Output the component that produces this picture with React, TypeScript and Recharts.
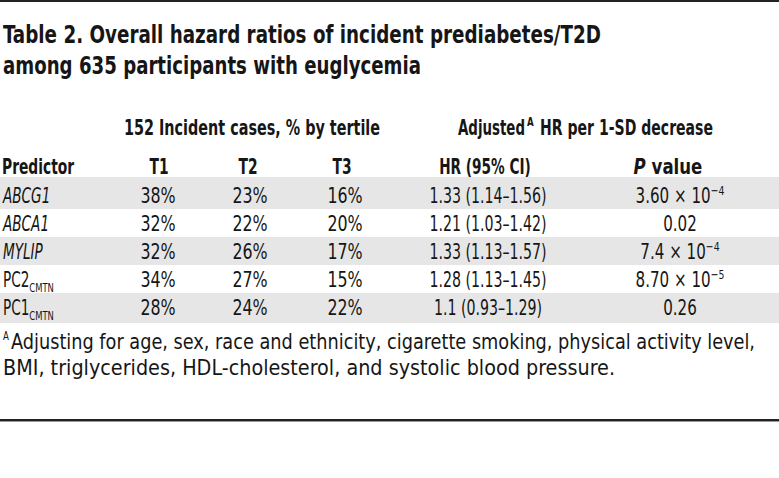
import { BarChart, Bar, XAxis, YAxis, Customized } from "recharts";

const predictors = ["ABCG1", "ABCA1", "MYLIP", "PC2", "PC1"];
const predictorSubs = ["", "", "", "CMTN", "CMTN"];
const italicNames = [true, true, true, false, false];
const tertile1 = [38, 32, 32, 34, 28];
const tertile2 = [23, 22, 26, 27, 24];
const tertile3 = [16, 20, 17, 15, 22];
const hrPoint = ["1.33", "1.21", "1.33", "1.28", "1.1"];
const hrLower = ["1.14", "1.03", "1.13", "1.13", "0.93"];
const hrUpper = ["1.56", "1.42", "1.57", "1.45", "1.29"];
const pMantissa = ["3.60", "0.02", "7.4", "8.70", "0.26"];
const pExponent: (number | null)[] = [-4, null, -4, -5, null];

const titleLines = [
  "Table 2. Overall hazard ratios of incident prediabetes/T2D",
  "among 635 participants with euglycemia",
];
const groupCases = "152 Incident cases, % by tertile";
const groupAdjusted = ["Adjusted", "A", "HR per 1-SD decrease"];
const columnHeaders = ["Predictor", "T1", "T2", "T3", "HR (95% CI)", "value"];
const footnoteMark = "A";
const footnoteLines = [
  "Adjusting for age, sex, race and ethnicity, cigarette smoking, physical activity level,",
  "BMI, triglycerides, HDL-cholesterol, and systolic blood pressure.",
];

const W = 779;
const H = 478;
const FONT = "'DejaVu Sans Condensed', 'DejaVu Sans', sans-serif";
const INK = "#161616";
const SHADE = "#e6e6e6";
// column anchors: predictor is left aligned, the rest centred
const COL = { pred: 3, t1: 158, t2: 250, t3: 345, hr: 488, p: 680 };

const rows = predictors.map((p, i) => ({
  predictor: p,
  sub: predictorSubs[i],
  italic: italicNames[i],
  t1: tertile1[i],
  t2: tertile2[i],
  t3: tertile3[i],
  hr: `${hrPoint[i]} (${hrLower[i]}\u2013${hrUpper[i]})`,
  pm: pMantissa[i],
  pe: pExponent[i],
  band: 1,
  shade: i % 2 === 0,
}));

// condensed text: the source face is far narrower than anything installed
const T = ({ x, y, sx, anchor = "start", size = 21, weight = 400, italic = false, children }: any) => (
  <text
    transform={`translate(${x} ${y}) scale(${sx} 1)`}
    textAnchor={anchor}
    fontFamily={FONT}
    fontSize={size}
    fontWeight={weight}
    fontStyle={italic ? "italic" : "normal"}
    fill={INK}
  >
    {children}
  </text>
);

// fixed-width text, for the long runs whose extent is known
const L = ({ x, y, len, size, weight = 400, anchor = "start", children }: any) => (
  <text
    x={x}
    y={y}
    textAnchor={anchor}
    fontFamily={FONT}
    fontSize={size}
    fontWeight={weight}
    fill={INK}
    textLength={len}
    lengthAdjust="spacingAndGlyphs"
  >
    {children}
  </text>
);

const RowShape = (props: any) => {
  const { x, y, width, height, payload } = props;
  const i = rows.findIndex((r) => r.predictor === payload.predictor);
  const top = i === 0 ? y - 4 : y;
  const bottom = i === rows.length - 1 ? y + height + 2 : y + height;
  const base = y + height / 2 + 8;
  return (
    <g>
      <rect x={x} y={top} width={width} height={bottom - top} fill={payload.shade ? SHADE : "#fff"} />
      <T x={COL.pred} y={base} sx={0.72} italic={payload.italic}>
        {payload.predictor}
        {payload.sub ? (
          <tspan fontSize={13} dy={5} fontStyle="normal">
            {payload.sub}
          </tspan>
        ) : null}
      </T>
      <T x={COL.t1} y={base} sx={0.84} anchor="middle">{`${payload.t1}%`}</T>
      <T x={COL.t2} y={base} sx={0.84} anchor="middle">{`${payload.t2}%`}</T>
      <T x={COL.t3} y={base} sx={0.84} anchor="middle">{`${payload.t3}%`}</T>
      <T x={COL.hr} y={base} sx={0.75} anchor="middle">{payload.hr}</T>
      <T x={COL.p} y={base} sx={0.8} anchor="middle">
        {payload.pe === null ? (
          payload.pm
        ) : (
          <>
            {`${payload.pm} \u00d7 10`}
            <tspan fontSize={13} dy={-8}>{`\u2212${Math.abs(payload.pe)}`}</tspan>
          </>
        )}
      </T>
    </g>
  );
};

const Frame = () => {
  const hy = 174;
  return (
    <g>
      <rect x={0} y={0} width={W} height={2} fill="#222" />
      <L x={3} y={43} len={598} size={24} weight={700}>{titleLines[0]}</L>
      <L x={3} y={74} len={418} size={24} weight={700}>{titleLines[1]}</L>

      <L x={252} y={135} len={256} size={22} weight={700} anchor="middle">{groupCases}</L>
      <L x={458} y={135} len={67} size={22} weight={700}>{groupAdjusted[0]}</L>
      <T x={527} y={126} sx={0.8} size={12} weight={700}>{groupAdjusted[1]}</T>
      <L x={540} y={135} len={173} size={22} weight={700}>{groupAdjusted[2]}</L>

      <T x={COL.pred - 1} y={hy} sx={0.7} size={22} weight={700}>{columnHeaders[0]}</T>
      <T x={COL.t1 + 1} y={hy} sx={0.7} size={22} weight={700} anchor="middle">{columnHeaders[1]}</T>
      <T x={COL.t2 - 2} y={hy} sx={0.7} size={22} weight={700} anchor="middle">{columnHeaders[2]}</T>
      <T x={COL.t3 - 3} y={hy} sx={0.7} size={22} weight={700} anchor="middle">{columnHeaders[3]}</T>
      <T x={COL.hr - 3} y={hy} sx={0.69} size={22} weight={700} anchor="middle">{columnHeaders[4]}</T>
      <T x={COL.p - 12} y={hy} sx={0.84} size={22} weight={700} anchor="middle">
        <tspan fontStyle="italic">P</tspan> {columnHeaders[5]}
      </T>

      <T x={3} y={340} sx={0.8} size={12}>{footnoteMark}</T>
      <L x={11} y={349} len={744} size={21}>{footnoteLines[0]}</L>
      <L x={3} y={375} len={612} size={21}>{footnoteLines[1]}</L>

      <rect x={0} y={419} width={W} height={2} fill="#222" />
      <rect x={0} y={421} width={W} height={1} fill="#999" />
    </g>
  );
};

export default function App() {
  return (
    <div style={{ width: W, height: H, background: "#fff" }}>
      <style>{`body{margin:0;background:#fff}`}</style>
      <BarChart
        width={W}
        height={H}
        data={rows}
        layout="vertical"
        margin={{ top: 181, right: 0, bottom: H - 181 - 140, left: 0 }}
        barCategoryGap={0}
      >
        <XAxis type="number" domain={[0, 1]} hide />
        <YAxis type="category" dataKey="predictor" hide />
        <Customized component={<Frame />} />
        <Bar dataKey="band" isAnimationActive={false} shape={RowShape} />
      </BarChart>
    </div>
  );
}
